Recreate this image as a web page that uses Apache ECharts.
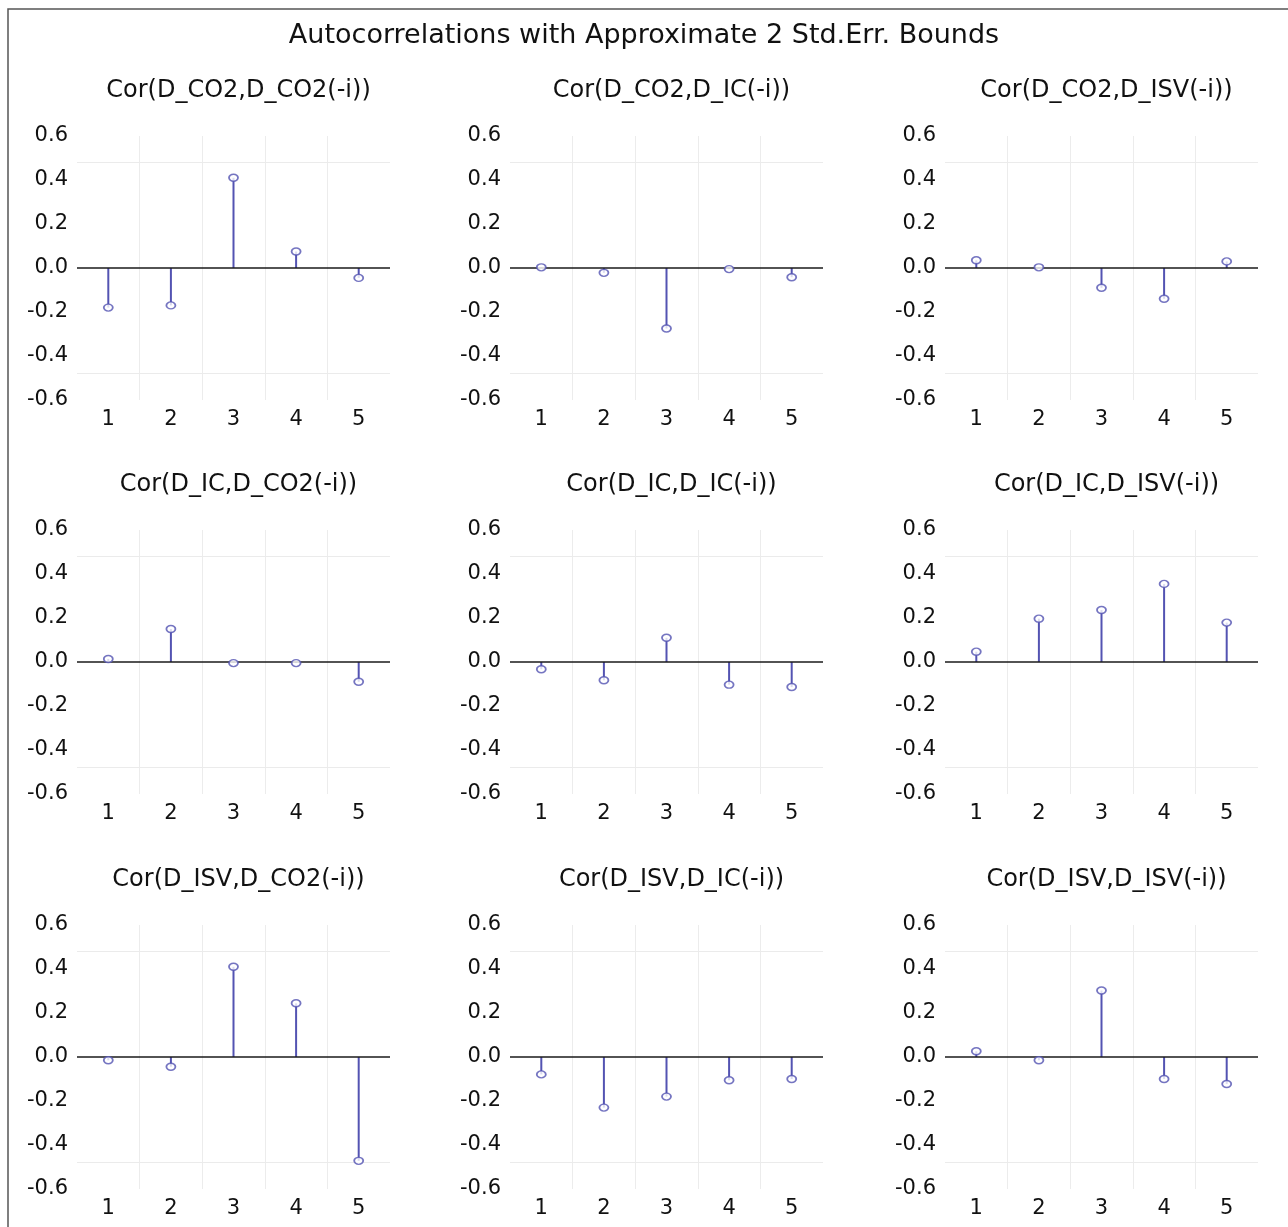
<!DOCTYPE html>
<html>
<head>
<meta charset="utf-8">
<script src="https://cdn.jsdelivr.net/npm/echarts@6/dist/echarts.min.js"></script>
<style>
html,body{margin:0;padding:0;background:#fff;}
#chart{width:1288px;height:1227px;}
</style>
</head>
<body>
<div id="chart"></div>
<script>
// ---- data ----
const mainTitle = 'Autocorrelations with Approximate 2 Std.Err. Bounds';
const lags = ['1', '2', '3', '4', '5'];
const panelTitles = [
  'Cor(D_CO2,D_CO2(-i))', 'Cor(D_CO2,D_IC(-i))', 'Cor(D_CO2,D_ISV(-i))',
  'Cor(D_IC,D_CO2(-i))',  'Cor(D_IC,D_IC(-i))',  'Cor(D_IC,D_ISV(-i))',
  'Cor(D_ISV,D_CO2(-i))', 'Cor(D_ISV,D_IC(-i))', 'Cor(D_ISV,D_ISV(-i))'
];
const co2_co2 = [-0.18, -0.17, 0.41, 0.075, -0.045];
const co2_ic  = [0.003, -0.022, -0.275, -0.005, -0.042];
const co2_isv = [0.035, 0.003, -0.09, -0.14, 0.03];
const ic_co2  = [0.014, 0.15, -0.005, -0.005, -0.09];
const ic_ic   = [-0.033, -0.083, 0.11, -0.103, -0.114];
const ic_isv  = [0.047, 0.197, 0.236, 0.355, 0.179];
const isv_co2 = [-0.015, -0.044, 0.41, 0.244, -0.472];
const isv_ic  = [-0.079, -0.23, -0.18, -0.106, -0.1];
const isv_isv = [0.026, -0.015, 0.302, -0.1, -0.123];
const panelValues = [co2_co2, co2_ic, co2_isv, ic_co2, ic_ic, ic_isv, isv_co2, isv_ic, isv_isv];
const stdErrBound = 0.485;   // approximate 2 std.err. bound
const yMin = -0.6, yMax = 0.6, yStep = 0.2;

// ---- layout ----
const colLeft = [77, 510, 945];
const gridW = 313;
const rowTop = [136, 530, 925];
const gridH = 264;
const FONT = 'DejaVu Sans';
const stemColor = '#5353b2';

const grids = [], xAxes = [], yAxes = [], series = [], titles = [];
titles.push({
  text: mainTitle, left: 'center', top: 17,
  textStyle: {fontFamily: FONT, fontSize: 27, fontWeight: 'normal', color: '#111'}
});

panelValues.forEach((vals, i) => {
  const r = Math.floor(i / 3), c = i % 3;
  grids.push({left: colLeft[c], top: rowTop[r], width: gridW, height: gridH, containLabel: false});
  titles.push({
    text: panelTitles[i],
    left: colLeft[c] + gridW / 2, top: rowTop[r] - 62, textAlign: 'center',
    textStyle: {fontFamily: FONT, fontSize: 24, fontWeight: 'normal', color: '#111'}
  });
  xAxes.push({
    type: 'category', gridIndex: i, data: lags, boundaryGap: true,
    axisLine: {show: false}, axisTick: {show: false},
    axisLabel: {fontFamily: FONT, fontSize: 21, color: '#111', margin: 9},
    splitLine: {show: true, showMinLine: false, showMaxLine: false,
                lineStyle: {color: '#ececec', width: 1}}
  });
  yAxes.push({
    type: 'value', gridIndex: i, min: yMin, max: yMax, interval: yStep,
    axisLine: {show: false}, axisTick: {show: false}, splitLine: {show: false},
    axisLabel: {fontFamily: FONT, fontSize: 21, color: '#111', margin: 9,
                formatter: v => v.toFixed(1)}
  });
  series.push({
    type: 'bar', xAxisIndex: i, yAxisIndex: i, data: vals, barWidth: 2,
    itemStyle: {color: stemColor}, silent: true, animation: false,
    markLine: {
      silent: true, symbol: 'none', label: {show: false}, animation: false,
      data: [
        {yAxis: stdErrBound, lineStyle: {color: '#ebebeb', width: 1, type: 'solid'}},
        {yAxis: -stdErrBound, lineStyle: {color: '#ebebeb', width: 1, type: 'solid'}},
        {yAxis: 0, lineStyle: {color: '#1a1a1a', width: 1.5, type: 'solid'}}
      ]
    }
  });
  series.push({
    type: 'scatter', xAxisIndex: i, yAxisIndex: i, data: vals,
    symbol: 'circle', symbolSize: [9, 7], z: 5, animation: false, silent: true,
    itemStyle: {color: '#ffffff', borderColor: stemColor, borderWidth: 1.6}
  });
});

const chart = echarts.init(document.getElementById('chart'), null, {renderer: 'canvas'});
chart.setOption({
  backgroundColor: '#ffffff',
  animation: false,
  title: titles,
  grid: grids,
  xAxis: xAxes,
  yAxis: yAxes,
  series: series,
  graphic: [{
    type: 'rect', z: 100, silent: true,
    shape: {x: 8, y: 9, width: 1300, height: 1240},
    style: {fill: 'none', stroke: '#555555', lineWidth: 1.5}
  }]
});
</script>
</body>
</html>
